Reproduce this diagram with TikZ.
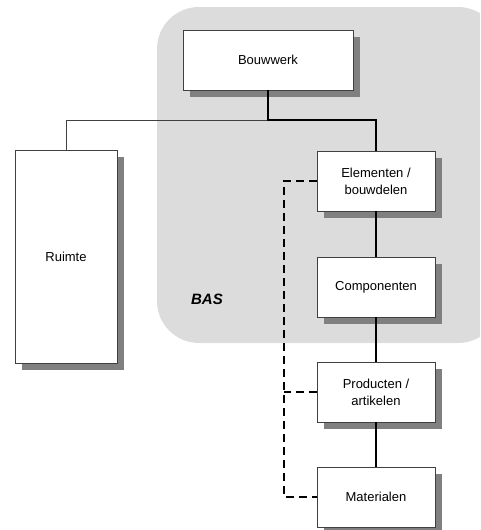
\documentclass[tikz,border=0pt]{standalone}
\usepackage{fontspec}
\setmainfont{Liberation Sans}
\usetikzlibrary{shadows}

\definecolor{basgrijs}{HTML}{DCDCDC}
\definecolor{schaduw}{HTML}{808080}
\definecolor{rand}{HTML}{404040}

\tikzset{
    blok/.style={rectangle, draw=rand, line width=0.8pt, fill=white, align=center,
        minimum width=118pt, minimum height=60pt, inner sep=2pt,
        font=\fontsize{13}{17}\selectfont,
        drop shadow={shadow xshift=7pt, shadow yshift=-7pt, fill=schaduw, opacity=1}},
    dik/.style={line width=2.6pt},
    dun/.style={line width=0.9pt, draw=rand},
    stippel/.style={line width=2.6pt, dash pattern=on 8pt off 5pt}
}

\begin{document}
\begin{tikzpicture}[x=1pt, y=-1pt]
    \clip (0,0) rectangle (480,530);
    % BAS gebied
    \fill[basgrijs, rounded corners=42pt] (157,7) rectangle (500,343);
    \node[font=\fontsize{15}{18}\selectfont\bfseries\itshape] (bas) at (207,299) {BAS};
    \path node[blok, minimum width=170pt] (bouwwerk) at (268,60) {Bouwwerk}
        node[blok, minimum width=102pt, minimum height=213pt] (ruimte) at (66,256.5) {Ruimte}
        node[blok] (elementen) at (376,181) {Elementen /\\bouwdelen}
        node[blok] (componenten) at (376,287) {Componenten}
        node[blok] (producten) at (376,392) {Producten /\\artikelen}
        node[blok] (materialen) at (376,497) {Materialen};
    \coordinate (knoop) at (268,120);
    \coordinate (stip) at (284,0);
       \draw[dun]   (ruimte) |- (knoop);
       \draw[dik]   (bouwwerk) -- (knoop) -| (elementen);
       \draw[dik]   (elementen) -- (componenten);
       \draw[dik]   (componenten) -- (producten);
       \draw[dik]   (producten) -- (materialen);
       \draw[stippel]   (elementen.west) -- (elementen.west -| stip) |- (materialen.west);
       \draw[stippel]   (producten.west) -- (producten.west -| stip);
\end{tikzpicture}
\end{document}
